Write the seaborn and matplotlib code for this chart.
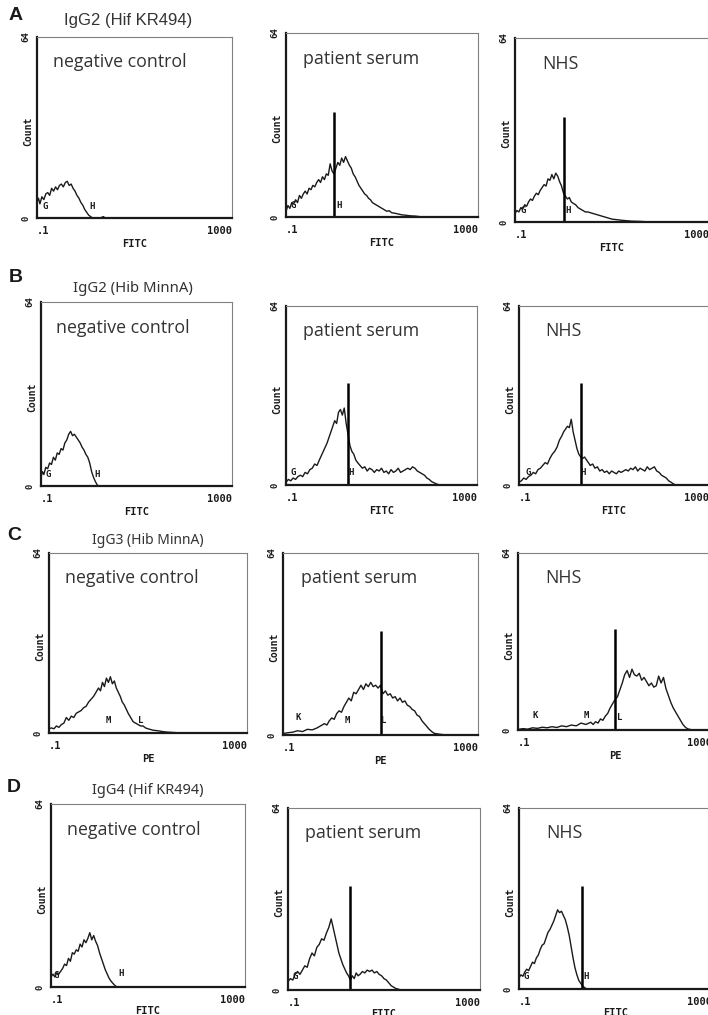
import numpy as np
import matplotlib
matplotlib.use('Agg')
import matplotlib.pyplot as plt
from matplotlib.ticker import LogLocator, NullFormatter
import seaborn as sns

sns.set_style('white')
plt.rcParams['font.family'] = ['DejaVu Sans']

W, H = 708, 1015

# histogram traces: log10(fluorescence) and event count
a1_x = [-1.0, -0.97, -0.94, -0.9, -0.86, -0.82, -0.78, -0.74, -0.7, -0.66, -0.62, -0.58, -0.54, -0.5,
        -0.46, -0.42, -0.38, -0.34, -0.3, -0.26, -0.22, -0.18, -0.14, -0.1, -0.06, -0.02, 0.02, 0.06,
        0.1, 0.14, 0.2, 0.3, 0.36, 0.4, 0.5, 3.0]
a1_y = [5.5, 7, 5, 7.5, 6.5, 8.5, 9, 8, 10.5, 9.5, 11, 10, 11.5, 12, 11, 12.5, 13, 11.5, 12, 10.5,
        9.5, 8, 7, 5.5, 4.5, 3, 2, 1, 0.5, 0, 0, 0, 0.5, 0, 0, 0]

a2_x = [-1.0, -0.96, -0.92, -0.88, -0.84, -0.8, -0.76, -0.72, -0.68, -0.64, -0.6, -0.56, -0.52, -0.48,
        -0.44, -0.4, -0.36, -0.32, -0.28, -0.24, -0.2, -0.16, -0.12, -0.08, -0.04, 0.0, 0.04, 0.08,
        0.12, 0.16, 0.2, 0.24, 0.28, 0.32, 0.36, 0.4, 0.44, 0.48, 0.52, 0.56, 0.6, 0.64, 0.68, 0.72,
        0.76, 0.8, 0.85, 0.9, 0.95, 1.0, 1.05, 1.1, 1.15, 1.2, 1.3, 1.4, 1.5, 1.6, 1.7, 1.8, 1.9, 2.0, 3.0]
a2_y = [2, 4, 3, 5, 4.5, 6, 5, 7.5, 6.5, 8, 9, 8, 10, 9.5, 11, 10.5, 12, 13, 12, 14, 13, 15, 14.5,
        18.5, 16, 15, 17, 19, 18, 20.5, 19, 21, 19.5, 18, 17, 15, 14, 12.5, 11, 10, 9, 8, 7.5, 6.5,
        6, 5, 4.5, 4, 3.5, 3, 2.5, 2, 2.2, 1.5, 1.2, 0.8, 0.6, 0.4, 0.3, 0.1, 0, 0, 0]

a3_x = [-1.0, -0.96, -0.92, -0.88, -0.84, -0.8, -0.76, -0.72, -0.68, -0.64, -0.6, -0.56, -0.52, -0.48,
        -0.44, -0.4, -0.36, -0.32, -0.28, -0.24, -0.2, -0.16, -0.12, -0.08, -0.04, 0.0, 0.04, 0.08,
        0.12, 0.16, 0.2, 0.25, 0.3, 0.35, 0.4, 0.45, 0.5, 0.6, 0.7, 0.8, 0.9, 1.0, 1.1, 1.2, 1.4,
        1.6, 1.8, 2.0, 3.0]
a3_y = [3, 4, 3.5, 5, 4.5, 6, 5.5, 7, 8, 7.5, 9, 10, 9.5, 11, 12, 13, 12.5, 15, 14.5, 16.5, 15, 17,
        16, 14, 12.5, 10, 9, 8, 8.5, 7, 6.5, 6, 5, 4.5, 4, 3.5, 3.5, 3, 2.5, 2, 1.5, 1, 0.8, 0.6,
        0.3, 0.2, 0, 0, 0]

b1_x = [-1.0, -0.97, -0.94, -0.9, -0.86, -0.82, -0.78, -0.74, -0.7, -0.66, -0.62, -0.58, -0.54, -0.5,
        -0.46, -0.42, -0.38, -0.34, -0.3, -0.26, -0.22, -0.18, -0.14, -0.1, -0.06, -0.02, 0.02, 0.06,
        0.1, 0.14, 0.18, 0.22, 0.3, 3.0]
b1_y = [3, 5, 4, 6.5, 6, 8, 7.5, 10, 9, 11.5, 11, 13, 12.5, 15, 16, 18, 19, 17.5, 18, 17, 16, 15,
        13.5, 12.5, 11, 10, 8, 5, 3, 1.5, 0.3, 0, 0, 0]

b2_x = [-1.0, -0.95, -0.9, -0.85, -0.8, -0.75, -0.7, -0.65, -0.6, -0.55, -0.5, -0.45, -0.4, -0.35,
        -0.3, -0.26, -0.22, -0.18, -0.14, -0.1, -0.06, -0.02, 0.02, 0.06, 0.1, 0.14, 0.18, 0.22, 0.26,
        0.3, 0.34, 0.38, 0.42, 0.46, 0.5, 0.55, 0.6, 0.65, 0.7, 0.75, 0.8, 0.85, 0.9, 0.95, 1.0, 1.05,
        1.1, 1.15, 1.2, 1.25, 1.3, 1.35, 1.4, 1.45, 1.5, 1.55, 1.6, 1.65, 1.7, 1.75, 1.8, 1.85, 1.9,
        1.95, 2.0, 2.05, 2.1, 2.15, 2.2, 2.3, 3.0]
b2_y = [1, 2, 1.5, 2.5, 2, 3, 3.5, 3, 4.5, 4, 5.5, 6, 7.5, 7, 9, 10.5, 12, 13.5, 15, 17, 19, 21, 23,
        22, 26, 27, 25, 27.5, 22, 18, 14, 12, 11, 9, 8, 7, 6, 6.5, 5, 6, 5.5, 4.5, 5.5, 5, 6, 4.5,
        5, 4, 5.5, 4.5, 5, 6, 4.5, 5, 5.5, 6, 5.5, 6.5, 6, 5, 4.5, 4, 3.5, 2.5, 2, 1.2, 0.8, 0.4,
        0.1, 0, 0]

b3_x = [-1.0, -0.95, -0.9, -0.85, -0.8, -0.75, -0.7, -0.65, -0.6, -0.55, -0.5, -0.45, -0.4, -0.35,
        -0.3, -0.25, -0.2, -0.15, -0.1, -0.06, -0.02, 0.02, 0.06, 0.1, 0.14, 0.18, 0.22, 0.26, 0.3,
        0.34, 0.38, 0.42, 0.46, 0.5, 0.55, 0.6, 0.65, 0.7, 0.75, 0.8, 0.85, 0.9, 0.95, 1.0, 1.05, 1.1,
        1.15, 1.2, 1.25, 1.3, 1.35, 1.4, 1.45, 1.5, 1.55, 1.6, 1.65, 1.7, 1.75, 1.8, 1.85, 1.9, 1.95,
        2.0, 2.05, 2.1, 2.15, 2.2, 2.25, 2.3, 3.0]
b3_y = [1, 1.5, 2.5, 2, 3, 3.5, 4.5, 4, 5.5, 6, 7, 8, 7.5, 9.5, 11, 12, 13.5, 16, 17.5, 19, 20, 21,
        20.5, 23.5, 19, 16, 13, 11, 10, 9.5, 10, 9, 8, 7, 7.5, 6, 6.5, 5, 5.5, 4.5, 5, 4, 5, 4.5, 4,
        5, 4.5, 5, 5.5, 5, 6, 5.5, 6.5, 5, 6, 5.5, 5, 6.5, 5.5, 6, 6.5, 5, 4.5, 3.5, 3, 2.5, 1.5, 1,
        0.4, 0, 0]

c1_x = [-1.0, -0.95, -0.9, -0.85, -0.8, -0.75, -0.7, -0.65, -0.6, -0.55, -0.5, -0.45, -0.4, -0.35,
        -0.3, -0.25, -0.2, -0.15, -0.1, -0.05, 0.0, 0.04, 0.08, 0.12, 0.16, 0.2, 0.24, 0.28, 0.32,
        0.36, 0.4, 0.44, 0.48, 0.52, 0.56, 0.6, 0.65, 0.7, 0.75, 0.8, 0.85, 0.9, 0.95, 1.0, 1.1, 1.2,
        1.3, 1.4, 1.5, 1.7, 1.9, 3.0]
c1_y = [1.5, 1.8, 1.5, 2.5, 2, 3, 3.5, 5.5, 4.5, 6, 5.5, 7, 7.5, 8, 9, 9.5, 11, 12, 13, 14.5, 16, 15,
        18, 16.5, 19.5, 18, 20, 17.5, 18.5, 16, 14.5, 13, 11, 10, 8.5, 7, 5.5, 4, 3.5, 3, 2.5, 2.5,
        1.8, 1.5, 1, 0.8, 0.5, 0.3, 0.2, 0, 0, 0]

c2_x = [-1.0, -0.9, -0.8, -0.7, -0.6, -0.5, -0.4, -0.3, -0.2, -0.15, -0.1, -0.05, 0.0, 0.05, 0.1,
        0.15, 0.2, 0.25, 0.3, 0.35, 0.4, 0.45, 0.5, 0.55, 0.6, 0.65, 0.7, 0.75, 0.8, 0.85, 0.9, 0.95,
        1.0, 1.05, 1.1, 1.15, 1.2, 1.25, 1.3, 1.35, 1.4, 1.45, 1.5, 1.55, 1.6, 1.65, 1.7, 1.75, 1.8,
        1.85, 1.9, 1.95, 2.0, 2.05, 2.1, 2.2, 2.3, 2.4, 3.0]
c2_y = [0.5, 0.8, 1, 1.5, 1.2, 2, 1.8, 2.5, 3.5, 4, 3.5, 5, 6, 5.5, 7.5, 8.5, 8, 10, 11.5, 13, 12,
        15, 14.5, 16, 17.5, 16, 18, 17, 18.5, 17, 17.5, 16.5, 17.5, 14.5, 15.5, 14, 14.5, 13, 13.5,
        12, 13, 11.5, 12, 10.5, 10, 9, 8.5, 7, 6.5, 5, 4, 3, 2, 1.2, 0.6, 0.3, 0.1, 0, 0]

c3_x = [-1.0, -0.9, -0.8, -0.7, -0.6, -0.5, -0.4, -0.3, -0.2, -0.1, 0.0, 0.1, 0.2, 0.3, 0.4, 0.5,
        0.55, 0.6, 0.65, 0.7, 0.75, 0.8, 0.85, 0.9, 0.95, 1.0, 1.05, 1.1, 1.15, 1.2, 1.25, 1.3, 1.35,
        1.4, 1.45, 1.5, 1.55, 1.6, 1.65, 1.7, 1.75, 1.8, 1.85, 1.9, 1.95, 2.0, 2.05, 2.1, 2.15, 2.2,
        2.25, 2.3, 2.35, 2.4, 2.45, 2.5, 2.6, 3.0]
c3_y = [0.2, 0.5, 0.3, 0.8, 0.6, 1, 0.8, 1.2, 0.9, 1.5, 1.2, 1.8, 1.5, 2.5, 2, 2.8, 2, 3, 2.5, 4,
        3.5, 5, 6, 8, 9.5, 11, 12, 14.5, 17, 20, 21.5, 19, 22, 20, 19.5, 20.5, 18, 19, 17.5, 16, 17,
        15.5, 16, 19.5, 17, 19, 15, 12.5, 10, 8, 6.5, 5, 3.5, 2, 1, 0.4, 0, 0]

d1_x = [-1.0, -0.96, -0.92, -0.88, -0.84, -0.8, -0.76, -0.72, -0.68, -0.64, -0.6, -0.56, -0.52, -0.48,
        -0.44, -0.4, -0.36, -0.32, -0.28, -0.24, -0.2, -0.16, -0.12, -0.08, -0.04, 0.0, 0.04, 0.08,
        0.12, 0.16, 0.2, 0.24, 0.28, 0.32, 0.36, 0.45, 3.0]
d1_y = [3.5, 4.5, 3.5, 5, 4.5, 5.5, 6.5, 8, 7.5, 10, 9, 12, 11.5, 13, 12.5, 15, 14, 16.5, 15.5, 17,
        19, 16.5, 18, 16, 14.5, 12, 10, 8, 6, 4.5, 3, 2, 1.2, 0.5, 0, 0, 0]

d2_x = [-1.0, -0.95, -0.9, -0.85, -0.8, -0.75, -0.7, -0.65, -0.6, -0.55, -0.5, -0.45, -0.4, -0.35,
        -0.3, -0.25, -0.2, -0.15, -0.1, -0.06, -0.02, 0.02, 0.06, 0.1, 0.14, 0.18, 0.22, 0.26, 0.3,
        0.34, 0.38, 0.42, 0.46, 0.5, 0.55, 0.6, 0.65, 0.7, 0.75, 0.8, 0.85, 0.9, 0.95, 1.0, 1.05, 1.1,
        1.15, 1.2, 1.25, 1.3, 1.35, 1.45, 3.0]
d2_y = [3, 4, 3.5, 5.5, 6.5, 5.5, 7, 8.5, 8, 11, 13, 12, 15, 16, 18, 17.5, 20, 22, 25, 22, 19, 16,
        13, 11, 9, 7.5, 6, 5, 3.5, 5, 4, 6, 5, 5.5, 6.5, 6, 7, 6.5, 7, 6, 6.5, 5.5, 5, 4, 3.5, 2.5,
        1.5, 1, 0.5, 0.3, 0, 0, 0]

d3_x = [-1.0, -0.96, -0.92, -0.88, -0.84, -0.8, -0.76, -0.72, -0.68, -0.64, -0.6, -0.56, -0.52, -0.48,
        -0.44, -0.4, -0.36, -0.32, -0.28, -0.24, -0.2, -0.16, -0.12, -0.08, -0.04, 0.0, 0.04, 0.08,
        0.12, 0.16, 0.2, 0.24, 0.28, 0.32, 0.36, 0.4, 0.5, 3.0]
d3_y = [4, 5, 4.5, 6, 7, 6.5, 8, 9.5, 9, 11, 12, 14, 15.5, 16, 18, 20, 21, 22.5, 24, 26, 28, 27,
        27.5, 26, 24.5, 22, 19, 15, 11, 7.5, 5, 3, 2, 1, 0.5, 0, 0, 0]

row_letters = ['A', 'B', 'C', 'D']
row_titles = ['IgG2 (Hif KR494)', 'IgG2 (Hib MinnA)', 'IgG3 (Hib MinnA)', 'IgG4 (Hif KR494)']
row_channels = ['FITC', 'FITC', 'PE', 'FITC']
col_labels = ['negative control', 'patient serum', 'NHS']
gate_lines = [1, 2, 10, 2]     # marker position in patient serum / NHS panels
gate_height = 36.5

traces = [[(a1_x, a1_y), (a2_x, a2_y), (a3_x, a3_y)],
          [(b1_x, b1_y), (b2_x, b2_y), (b3_x, b3_y)],
          [(c1_x, c1_y), (c2_x, c2_y), (c3_x, c3_y)],
          [(d1_x, d1_y), (d2_x, d2_y), (d3_x, d3_y)]]

# region letters (text, log10 x, count)
gate_marks = [
    [[('G', -0.83, 2.5), ('H', 0.12, 2.5)], [('G', -0.85, 2.5), ('H', 0.1, 2.5)], [('G', -0.83, 2.5), ('H', 0.1, 2.5)]],
    [[('G', -0.85, 2.5), ('H', 0.17, 2.5)], [('G', -0.85, 3), ('H', 0.36, 3)], [('G', -0.8, 3), ('H', 0.35, 3)]],
    [[('M', 0.19, 3), ('L', 0.85, 3)], [('K', -0.68, 4.5), ('M', 0.31, 3.5), ('L', 1.06, 3.5)],
     [('K', -0.64, 3.5), ('M', 0.4, 3.5), ('L', 1.1, 3)]],
    [[('G', -0.9, 2.5), ('H', 0.45, 3)], [('G', -0.85, 3)], [('G', -0.85, 3), ('H', 0.4, 3)]],
]

# axes boxes in pixels: left, top, right, bottom
boxes = [[(37, 37, 232, 218), (286, 33, 478, 217), (515, 38, 709, 222)],
         [(41, 302, 232, 486), (286, 306, 477, 485), (519, 306, 709, 485)],
         [(49, 553, 247, 733), (283, 553, 478, 735), (518, 553, 712, 730)],
         [(51, 804, 245, 987), (288, 808, 480, 990), (519, 808, 712, 989)]]

letter_pos = [(9, 15), (9, 277), (7, 535), (7, 787)]
title_pos = [(128, 21), (133, 288), (148, 540), (148, 790)]
title_size = [12, 10.7, 10, 10.5]
label_dx = [0.08, 0.09, 0.14]

mono = 'DejaVu Sans Mono'
ink = '#1a1a1a'

fig = plt.figure(figsize=(W / 100, H / 100), dpi=100)

for r in range(4):
    fig.text(letter_pos[r][0] / W, 1 - letter_pos[r][1] / H, row_letters[r], fontsize=14,
             fontweight='bold', family='Liberation Sans', ha='left', va='center', color=ink)
    tfam = 'Liberation Sans' if r == 0 else 'Noto Sans'
    fig.text(title_pos[r][0] / W, 1 - title_pos[r][1] / H, row_titles[r], fontsize=title_size[r],
             family=tfam, ha='center', va='center', color='#333333')
    for c in range(3):
        l, t, rr, b = boxes[r][c]
        ax = fig.add_axes([l / W, 1 - b / H, (rr - l) / W, (b - t) / H])
        ax.set_xscale('log')
        xs, ys = traces[r][c]
        sns.lineplot(x=10 ** np.array(xs), y=ys, ax=ax, color=ink, linewidth=1.0,
                     estimator=None, sort=False)
        if c > 0:
            ax.vlines(gate_lines[r], 0, gate_height, color='black', linewidth=1.8)
        for txt, gx, gy in gate_marks[r][c]:
            ax.text(10 ** gx, gy, txt, fontsize=6.5, family=mono, fontweight='bold',
                    ha='center', va='bottom', color=ink)
        ax.set_xlim(0.1, 1000)
        ax.set_ylim(0, 64)
        ax.set_xticks([0.1, 1, 10, 100, 1000])
        ax.set_xticklabels(['.1', '', '', '', '1000'], family=mono, fontweight='bold', fontsize=7.5)
        xl = ax.get_xticklabels()
        xl[0].set_ha('left')
        xl[-1].set_ha('right')
        ax.xaxis.set_minor_locator(LogLocator(base=10, subs=range(2, 10)))
        ax.xaxis.set_minor_formatter(NullFormatter())
        ax.set_yticks([0, 16, 32, 48, 64])
        ax.set_yticklabels(['0', '', '', '', '64'], family=mono, fontweight='bold', fontsize=6.5,
                           rotation=90, va='center')
        ax.tick_params(axis='x', which='major', direction='out', length=4, width=1, pad=2, colors=ink)
        ax.tick_params(axis='x', which='minor', direction='out', length=2.5, width=0.7, colors=ink)
        ax.tick_params(axis='y', direction='out', length=3, width=1, pad=1.5, colors=ink)
        ax.set_xlabel(row_channels[r], family=mono, fontweight='bold', fontsize=7.5,
                      labelpad=2 if r < 3 else 0.5, color=ink)
        ax.set_ylabel('Count', family=mono, fontweight='bold', fontsize=7, color=ink)
        ax.yaxis.set_label_coords(-0.02, 0.48)
        for side in ['left', 'bottom']:
            ax.spines[side].set_linewidth(1.6)
            ax.spines[side].set_color(ink)
        for side in ['top', 'right']:
            ax.spines[side].set_linewidth(0.8)
            ax.spines[side].set_color('#808080')
        ax.text(label_dx[c], 0.86, col_labels[c], transform=ax.transAxes, fontsize=12.8,
                family='Open Sans', ha='left', va='center', color='#333333')

fig.savefig('out.png', dpi=100)
